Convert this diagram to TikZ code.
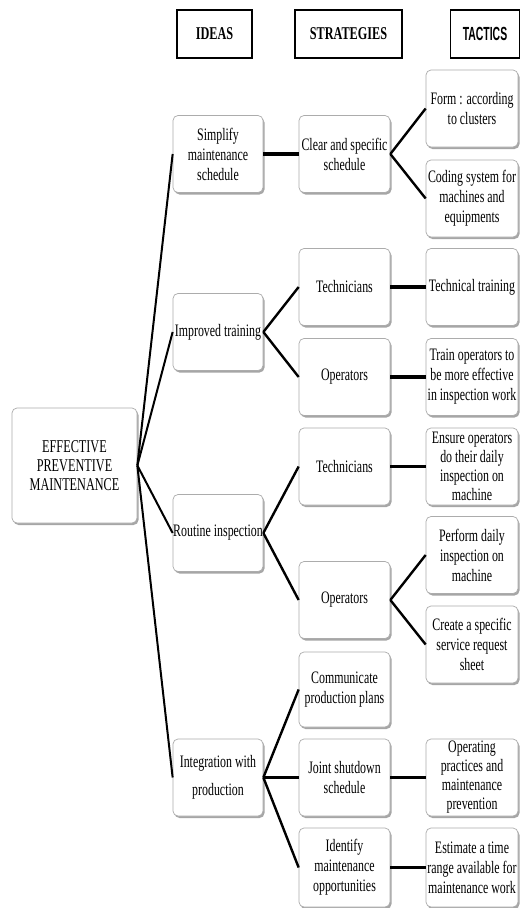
\documentclass[tikz,border=0pt]{standalone}
\usepackage{fontspec}
\setmainfont{Liberation Serif}[FakeStretch=0.68]
\newfontfamily\tacfont{Liberation Sans}[FakeStretch=0.55]
\usetikzlibrary{shadows}
\begin{document}
\begin{tikzpicture}[x=1pt,y=-1pt,
  box/.style={draw=gray!65, line width=0.7pt, rounded corners=5pt, fill=white,
    align=center, inner sep=0pt, font=\fontsize{17.5}{20}\selectfont,
    drop shadow={shadow xshift=1.5pt, shadow yshift=-2pt, fill=black, opacity=0.35}},
  idea/.style={box, minimum width=90pt, minimum height=77pt},
  strat/.style={box, minimum width=91pt, minimum height=77pt},
  tact/.style={box, minimum width=92pt, minimum height=77pt},
  head/.style={draw=black, line width=1.2pt, minimum height=48pt, inner sep=0pt},
  rootlink/.style={line width=2pt},
  link/.style={line width=2.4pt},
  hlink/.style={line width=3.6pt}]
\useasboundingbox (0,0) rectangle (521,908);
\fill[white] (0,0) rectangle (521,908);

% headers
\node[head, minimum width=75pt] (hIdeas) at (214.5,34) {\fontsize{18}{20}\selectfont\bfseries IDEAS};
\node[head, minimum width=107pt] (hStrat) at (348.5,34) {\fontsize{18}{20}\selectfont\bfseries STRATEGIES};
\node[head, minimum width=69pt] (hTact) at (485,34) {\fontsize{19}{20}\selectfont\tacfont\bfseries TACTICS};

% root
\node[box, minimum width=125pt, minimum height=115pt, font=\fontsize{18}{19}\selectfont] (epm) at (74.5,465.5) {EFFECTIVE\\PREVENTIVE\\MAINTENANCE};

% ideas
\node[idea] (i1) at (218,154) {Simplify\\maintenance\\schedule};
\node[idea] (i2) at (218,332) {Improved training};
\node[idea] (i3) at (218,533) {Routine inspection};
\node[idea, font=\fontsize{17.5}{28}\selectfont] (i4) at (218,777.5) {Integration with\\production};

% strategies
\node[strat] (s1) at (344.5,154) {Clear and specific\\schedule};
\node[strat] (s2) at (344.5,287) {Technicians};
\node[strat] (s3) at (344.5,377) {Operators};
\node[strat] (s4) at (344.5,466.5) {Technicians};
\node[strat] (s5) at (344.5,600) {Operators};
\node[strat, minimum height=75pt] (s6) at (344.5,689.5) {Communicate\\production plans};
\node[strat] (s7) at (344.5,777.5) {Joint shutdown\\schedule};
\node[strat, minimum height=79pt] (s8) at (344.5,867.5) {Identify\\maintenance\\opportunities};

% tactics
\node[tact] (t1) at (472,108.5) {Form : according\\to clusters};
\node[tact] (t2) at (472,198.5) {Coding system for\\machines and\\equipments};
\node[tact] (t3) at (472,287) {Technical training};
\node[tact] (t4) at (472,377) {Train operators to\\be more effective\\in inspection work};
\node[tact, font=\fontsize{17.5}{19}\selectfont] (t5) at (472,466.5) {Ensure operators\\do their daily\\inspection on\\machine};
\node[tact] (t6) at (472,555) {Perform daily\\inspection on\\machine};
\node[tact] (t7) at (472,644.5) {Create a specific\\service request\\sheet};
\node[tact, font=\fontsize{17.5}{19}\selectfont] (t8) at (472,777.5) {Operating\\practices and\\maintenance\\prevention};
\node[tact, minimum height=79pt] (t9) at (472,867.5) {Estimate a time\\range available for\\maintenance work};

% connectors
\begin{scope}[on background layer/.style={}]
\draw[rootlink] (epm.east) -- (i1.west);
\draw[rootlink] (epm.east) -- (i2.west);
\draw[rootlink] (epm.east) -- (i3.west);
\draw[rootlink] (epm.east) -- (i4.west);

\draw[hlink] (i1.east) -- (s1.west);
\draw[link] (i2.east) -- (s2.west);
\draw[link] (i2.east) -- (s3.west);
\draw[link] (i3.east) -- (s4.west);
\draw[link] (i3.east) -- (s5.west);
\draw[link] (i4.east) -- (s6.west);
\draw[hlink] (i4.east) -- (s7.west);
\draw[link] (i4.east) -- (s8.west);

\draw[link] (s1.east) -- (t1.west);
\draw[link] (s1.east) -- (t2.west);
\draw[hlink] (s2.east) -- (t3.west);
\draw[hlink] (s3.east) -- (t4.west);
\draw[hlink] (s4.east) -- (t5.west);
\draw[link] (s5.east) -- (t6.west);
\draw[link] (s5.east) -- (t7.west);
\draw[hlink] (s7.east) -- (t8.west);
\draw[hlink] (s8.east) -- (t9.west);
\end{scope}
\end{tikzpicture}
\end{document}
